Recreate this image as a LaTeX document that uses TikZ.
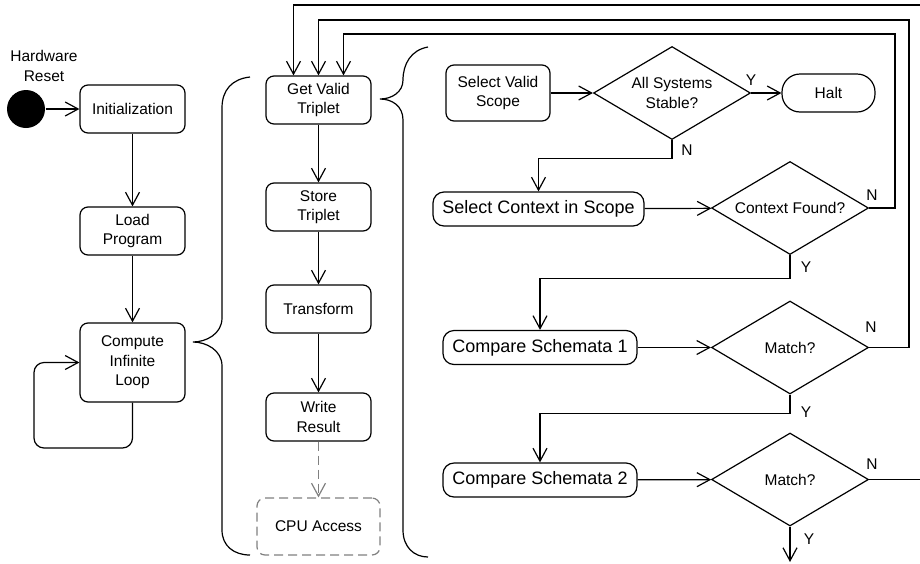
\documentclass[tikz,border=0pt]{standalone}
\usepackage{fontspec}
\setmainfont{Liberation Sans}
\usetikzlibrary{arrows.meta,positioning,shapes.geometric}

\begin{document}
\begin{tikzpicture}[x=1pt,y=-1pt,line width=1.2pt,
        >={Straight Barb[length=13pt,width=14pt]},
        font=\fontsize{15.5}{19.5}\selectfont,
        act/.style={draw, rounded corners=8pt, minimum width=105pt, minimum height=48pt, inner sep=0pt, align=center},
        wideact/.style={draw, rounded corners=11pt, minimum width=194pt, minimum height=34pt, inner sep=0pt, font=\fontsize{18}{21}\selectfont},
        choice/.style={draw, diamond, aspect=1.7, minimum width=157pt, minimum height=93pt, inner sep=0pt, align=center},
        yn/.style={inner sep=0pt}]
          \useasboundingbox (0,0) rectangle (920,563);

          %boot sequence
          \node[fill, circle, minimum size=38pt, inner sep=0pt] (reset) at (26,109) {};
          \node[align=center] (resetlbl) at (44,66) {Hardware\\Reset};
          \node[act] (init) at (132.5,109) {Initialization};
          \node[act] (load) at (132.5,231) {Load\\Program};
          \node[act, minimum height=79pt] (loop) at (132.5,362.5) {Compute\\Infinite\\Loop};
          \coordinate (loopc) at (34,448);

          \draw[->] (reset) -- (init);
          \draw[->] (init) -- (load);
          \draw[->] (load) -- (loop);
          \draw[->, rounded corners=10pt] (loop.south) -- (loop.south |- loopc) -- (loopc) -- (loopc |- loop.west) -- (loop.west);

          %draw loop body
          \node[act] (get) at (318.5,100) {Get Valid\\Triplet};
          \node[act] (store) at (318.5,207) {Store\\Triplet};
          \node[act] (xform) at (318.5,309) {Transform};
          \node[act] (write) at (318.5,417) {Write\\Result};
          \node[act, draw=gray, dash pattern=on 9pt off 5pt, minimum width=123pt, minimum height=57pt] (cpu) at (318.5,526.5) {CPU Access};

          \draw[->] (get) -- (store);
          \draw[->] (store) -- (xform);
          \draw[->] (xform) -- (write);
          \draw[->, gray, dash pattern=on 9pt off 5pt] (write) -- (cpu);

          %draw braces
          \draw (250,77) .. controls (232,79) and (222,90) .. (222,108) -- (222,318)
                .. controls (222,334) and (206,342) .. (193,342)
                .. controls (206,342) and (222,350) .. (222,366) -- (222,530)
                .. controls (222,546) and (234,555) .. (250,555);
          \draw (428,47) .. controls (411,50) and (403,64) .. (403,80)
                .. controls (403,92) and (392,99) .. (380,99)
                .. controls (392,99) and (403,106) .. (403,120) -- (403,530)
                .. controls (403,547) and (414,557) .. (428,557);

          %draw triplet selection
          \node[act, minimum width=104pt, minimum height=56pt] (scope) at (498,93) {Select Valid\\Scope};
          \node[choice] (stable) at (672,93) {All Systems\\Stable?};
          \node[draw, rounded corners=18pt, minimum width=93pt, minimum height=38pt] (halt) at (828.5,93) {Halt};
          \node[wideact, minimum width=211pt] (ctx) at (538.5,209) {Select Context in Scope};
          \node[choice] (found) at (790,208) {Context Found?};
          \node[wideact] (cmp1) at (540,347.5) {Compare Schemata 1};
          \node[choice] (match1) at (790,347.5) {Match?};
          \node[wideact] (cmp2) at (540,480) {Compare Schemata 2};
          \node[choice] (match2) at (790,479.5) {Match?};

          \draw[->] (scope) -- (stable);
          \draw[->] (stable) -- (halt);
          \draw[->] (stable.south) -- ++(0,18) -| (ctx.north);
          \draw[->] (ctx) -- (found);
          \draw[->] (found.south) -- ++(0,23) -| (cmp1.north);
          \draw[->] (cmp1) -- (match1);
          \draw[->] (match1.south) -- ++(0,19) -| (cmp2.north);
          \draw[->] (cmp2) -- (match2);
          \coordinate (exit) at (790,562);
          \draw[->] (match2.south) -- (exit);

          %feedback to triplet fetch
          \coordinate (fbtop) at (920,5);
          \coordinate (fbmid) at (909,20);
          \coordinate (fblow) at (895,34);
          \coordinate (fbend) at (920,479.5);
          \draw[->] (fbtop) -| ([xshift=-25pt]get.north);
          \draw[->] (match1.east) -| (fbmid) -| (get.north);
          \draw[->] (found.east) -| (fblow) -| ([xshift=25pt]get.north);
          \draw (match2.east) -- (fbend);

          %branch labels
          \node[yn] (stabley) at (751,80) {Y};
          \node[yn] (stablen) at (687,150) {N};
          \node[yn] (foundn) at (872,195) {N};
          \node[yn] (foundy) at (806,267) {Y};
          \node[yn] (match1n) at (871,327) {N};
          \node[yn] (match1y) at (806,412) {Y};
          \node[yn] (match2n) at (872,464) {N};
          \node[yn] (match2y) at (809,539) {Y};
\end{tikzpicture}
\end{document}
